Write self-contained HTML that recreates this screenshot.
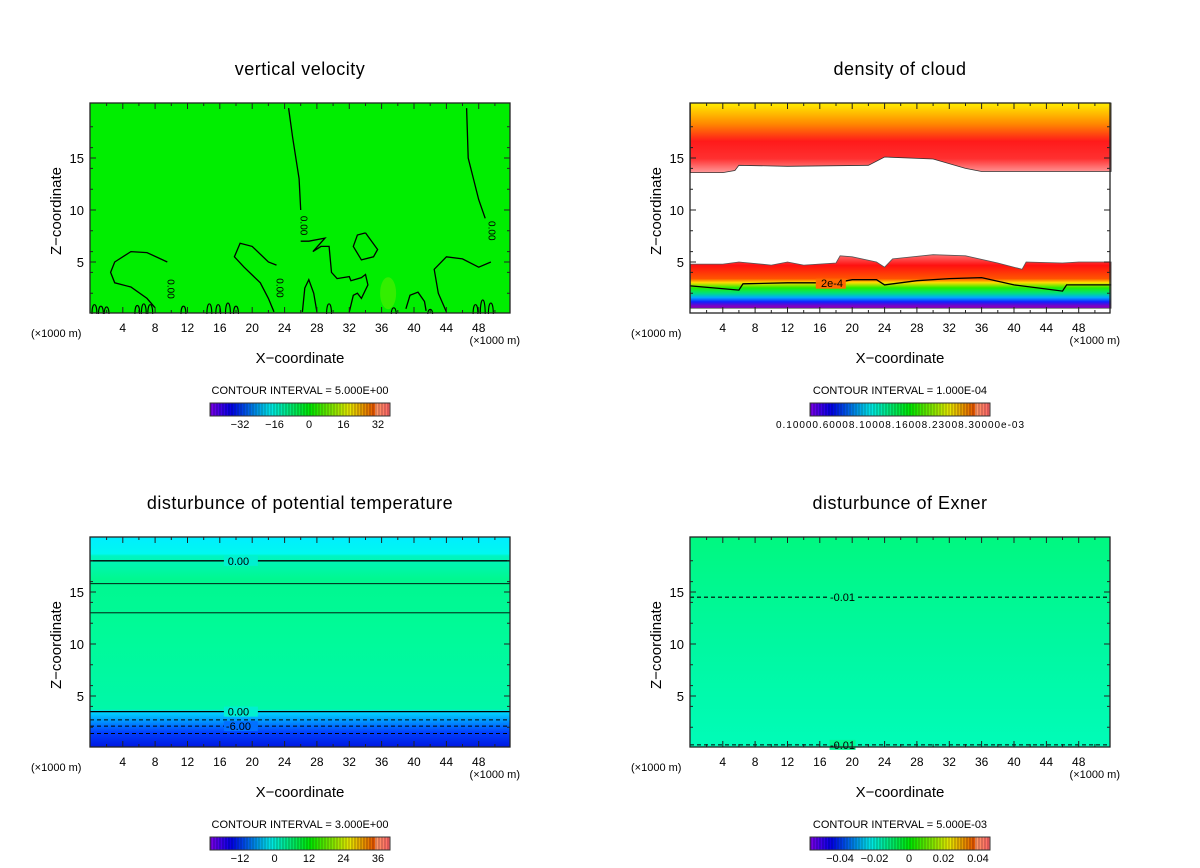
<!DOCTYPE html>
<html><head><meta charset="utf-8"><style>
html,body{margin:0;padding:0;background:#fff}
svg{display:block}
text{font-family:"Liberation Sans",sans-serif;fill:#000}
</style></head><body>
<svg id="fig" width="1200" height="868" viewBox="0 0 1200 868" xmlns="http://www.w3.org/2000/svg">
<defs>
<linearGradient id="gCloudTop" x1="0" y1="0" x2="0" y2="1">
<stop offset="0" stop-color="#ffee00"/><stop offset="0.3" stop-color="#ff8800"/><stop offset="0.55" stop-color="#ff1a1a"/><stop offset="0.8" stop-color="#ff3030"/><stop offset="1" stop-color="#ff9a9a"/></linearGradient>
<linearGradient id="gCloudLow" x1="0" y1="0" x2="0" y2="1">
<stop offset="0" stop-color="#ff7070"/><stop offset="0.2" stop-color="#ff1010"/><stop offset="0.45" stop-color="#ff5500"/><stop offset="0.52" stop-color="#ffdd00"/><stop offset="0.62" stop-color="#22ee00"/><stop offset="0.72" stop-color="#00e080"/><stop offset="0.8" stop-color="#00aaff"/><stop offset="0.88" stop-color="#1020ff"/><stop offset="0.96" stop-color="#8000c0"/><stop offset="1" stop-color="#8000c0"/></linearGradient>
<linearGradient id="gTheta" x1="0" y1="0" x2="0" y2="1">
<stop offset="0" stop-color="#00eeff"/><stop offset="0.08" stop-color="#00f8f0"/><stop offset="0.09" stop-color="#00f5c0"/><stop offset="0.2" stop-color="#00f890"/><stop offset="0.45" stop-color="#00fa98"/><stop offset="0.82" stop-color="#00f8a8"/><stop offset="0.83" stop-color="#00ddff"/><stop offset="0.88" stop-color="#0090ff"/><stop offset="0.93" stop-color="#0040ff"/><stop offset="1" stop-color="#0018e0"/></linearGradient>
<linearGradient id="gExner" x1="0" y1="0" x2="0" y2="1">
<stop offset="0" stop-color="#00f880"/><stop offset="0.5" stop-color="#00f8a0"/><stop offset="1" stop-color="#00fcb8"/></linearGradient>
</defs>
<g id="root"></g>
</svg>
<script>
// axis data
const xTicks = [4, 8, 12, 16, 20, 24, 28, 32, 36, 40, 44, 48];
const yTicks = [5, 10, 15];
const titles = ["vertical velocity", "density of cloud", "disturbunce of potential temperature", "disturbunce of Exner"];
const intervals = ["CONTOUR INTERVAL = 5.000E+00", "CONTOUR INTERVAL = 1.000E-04", "CONTOUR INTERVAL = 3.000E+00", "CONTOUR INTERVAL = 5.000E-03"];
const cbLabels0 = ["-32", "-16", "0", "16", "32"];
const cbLabels2 = ["-12", "0", "12", "24", "36"];
const cbLabels3 = ["-0.04", "-0.02", "0", "0.02", "0.04"];
// cloud boundaries (x km, z km)
const cloudBaseX = [0, 4, 5.5, 6, 12, 22, 24, 30, 34, 36, 52];
const cloudBaseZ = [13.6, 13.6, 13.8, 14.3, 14.2, 14.3, 15.1, 14.9, 14.0, 13.7, 13.7];
const lowTopX = [0, 4, 6, 10, 12, 14, 18, 18.5, 20, 23, 24, 25, 30, 34, 38, 41, 41.5, 46, 48, 52];
const lowTopZ = [4.8, 4.8, 5.0, 4.7, 5.0, 4.7, 4.9, 5.6, 5.5, 5.0, 4.5, 5.3, 5.7, 5.6, 4.9, 4.3, 5.0, 4.9, 5.0, 5.0];
const c2eX = [0, 6, 6.5, 12, 18, 20, 23, 24, 28, 32, 36, 40, 46, 46.5, 52];
const c2eZ = [2.7, 2.3, 2.9, 3.0, 3.0, 3.3, 3.3, 2.8, 3.2, 3.4, 3.5, 2.8, 2.2, 2.8, 2.8];
// potential temperature contour levels (z km), solid/dashed
const thetaSolidZ = [18.0, 15.8, 13.0, 3.5];
const thetaDashZ = [2.7, 2.1, 1.4];
const exnerDashZ = [14.5, 0.3];
// vertical velocity zero contours (x,z pairs)
const wLineA = [[24.5,19.8],[25,17],[25.8,13],[26,10]];
const wLineB = [[46.5,19.8],[46.7,15],[48,11],[48.8,9.2]];
const wLoop1 = [[9.5,5],[7,5.9],[5,6],[3,5],[2.5,4],[3,3],[5,2.6],[7,1.5],[8,0.6]];
const wLoop2 = [[23,4.7],[22,5],[20,6.5],[18.5,6.8],[17.8,5.5],[19,4.5],[21,3],[22,1.5],[22.7,0.2]];
const wLoop3 = [[34,7.8],[33,7.6],[32.5,6.5],[33.5,5.2],[35,5.5],[35.5,6.2],[34,7.8]];
const wLoop4 = [[26,7],[27,7],[29,7.3],[27.5,6],[28.5,6.5],[29.5,6.5],[29.8,4],[30.5,3.4],[32,3.6],[32.2,3.2],[33.5,3.5],[34,3.8],[34.3,2.8],[33.5,1.5],[33,2],[32.5,1.8],[32,0.2]];
const wLoop5 = [[49.5,5],[48,4.5],[46,5.3],[44,5.5],[42.5,4.3],[43,2],[44,0.2]];
const wLoop6 = [[26.2,0.2],[26.5,2.5],[27,3.3],[27.6,2],[28,0.2]];
const wLoop7 = [[39,0.5],[39.5,1.8],[40.5,2.1],[41.3,1.2],[41.5,0.3]];
// small near-ground cells (x km, height km)
const groundX = [0.5, 1.3, 2, 5.8, 6.6, 7.4, 11.5, 14.7, 15.8, 17, 18, 29.5, 37.5, 42, 47.6, 48.5, 49.5];
const groundH = [1.2, 1.0, 0.9, 1.1, 1.3, 1.2, 1.0, 1.3, 1.2, 1.4, 1.0, 1.3, 0.8, 0.6, 1.2, 1.8, 1.4];

const NS = "http://www.w3.org/2000/svg";
const root = document.getElementById("root");
function mk(tag, attrs, parent) { const e = document.createElementNS(NS, tag); for (const k in attrs) e.setAttribute(k, attrs[k]); (parent || root).appendChild(e); return e; }
const PW = 420, PH = 210, KX = 8.09, KZ = 10.4;
const origins = [[90,103],[690,103],[90,537],[690,537]];
function sx(p, x) { return origins[p][0] + 0.4 + x * KX; }
function sy(p, z) { return origins[p][1] + 211 - z * KZ; }
function poly(p, xs, zs) { return xs.map((x, i) => sx(p, x).toFixed(1) + "," + sy(p, zs[i]).toFixed(1)).join(" "); }
function ptsPath(p, arr) { return "M" + arr.map(q => sx(p, q[0]).toFixed(1) + "," + sy(p, q[1]).toFixed(1)).join(" L"); }
function rainbow(t) { const h = 270 - t * 270; return "hsl(" + Math.max(0, h) + ",100%," + (t > 0.93 ? 70 : 45) + "%)"; }

for (let p = 0; p < 4; p++) {
  const [ox, oy] = origins[p];
  const cx = ox + PW / 2;
  const g = mk("g", {});
  
  
  const t = mk("text", {x: cx, y: oy - 28, "font-size": 18, "text-anchor": "middle", "letter-spacing": "0.5"}, g);
  t.textContent = titles[p];
  
  
  const plot = mk("g", {}, g);
  
  
  if (p === 0) {
    mk("rect", {x: ox, y: oy, width: PW, height: PH, fill: "#00ee00"}, plot);
    mk("ellipse", {cx: sx(0,36.8), cy: sy(0,2), rx: 8, ry: 16, fill: "#55ee00", opacity: 0.6}, plot);
    [wLineA, wLineB, wLoop1, wLoop2, wLoop3, wLoop4, wLoop5, wLoop6, wLoop7].forEach(l => {
      const e = mk("path", {d: ptsPath(0, l), fill: "none", stroke: "#000", "stroke-width": 1.3}, plot);
      
      
    });
    [[26,8.5],[49.2,8],[9.5,2.4],[23,2.5]].forEach(q => {
      const e = mk("text", {x: sx(0,q[0]), y: sy(0,q[1]), "font-size": 10, transform: "rotate(90 " + sx(0,q[0]) + " " + sy(0,q[1]) + ")", "text-anchor": "middle"}, plot);
      e.textContent = "0.00";
    });
    groundX.forEach((x, i) => {
      const x0 = sx(0, x - 0.3), x1 = sx(0, x + 0.3), yt = sy(0, groundH[i]), yb = sy(0, 0);
      mk("path", {d: `M${x0.toFixed(1)},${yb} C${x0.toFixed(1)},${yt.toFixed(1)} ${x1.toFixed(1)},${yt.toFixed(1)} ${x1.toFixed(1)},${yb}`, fill: "none", stroke: "#000", "stroke-width": 1.1}, plot);
    });
  } else if (p === 1) {
    mk("rect", {x: ox, y: oy, width: PW, height: PH, fill: "#fff"}, plot);
    const up = mk("polygon", {points: sx(1,0) + "," + oy + " " + sx(1,52) + "," + oy + " " + poly(1, cloudBaseX.slice().reverse(), cloudBaseZ.slice().reverse()), fill: "url(#gCloudTop)", stroke: "#333", "stroke-width": 0.8}, plot);
    
    
    const lo = mk("polygon", {points: poly(1, lowTopX, lowTopZ) + " " + sx(1,52) + "," + sy(1,0.55) + " " + sx(1,0) + "," + sy(1,0.55), fill: "url(#gCloudLow)", stroke: "#555", "stroke-width": 0.8}, plot);
    
    
    mk("polyline", {points: poly(1, c2eX, c2eZ), fill: "none", stroke: "#000", "stroke-width": 1.3}, plot);
    mk("rect", {x: sx(1,15.5), y: sy(1,3.4), width: 30, height: 10, fill: "#ff6a00"}, plot);
    const lb = mk("text", {x: sx(1,17.5), y: sy(1,2.6), "font-size": 11, "text-anchor": "middle"}, plot);
    lb.textContent = "2e-4";
  } else if (p === 2) {
    mk("rect", {x: ox, y: oy, width: PW, height: PH, fill: "url(#gTheta)"}, plot);
    thetaSolidZ.forEach((z, i) => mk("line", {x1: ox, x2: ox + PW, y1: sy(2,z), y2: sy(2,z), stroke: "#000", "stroke-width": (i === 0 || i === 3) ? 1.3 : 0.8}, plot));
    thetaDashZ.forEach(z => mk("line", {x1: ox, x2: ox + PW, y1: sy(2,z), y2: sy(2,z), stroke: "#000", "stroke-width": 1, "stroke-dasharray": "4,3"}, plot));
    [[thetaSolidZ[0], "0.00"], [thetaSolidZ[3], "0.00"], [thetaDashZ[1], "-6.00"]].forEach(q => {
      mk("rect", {x: sx(2,16.5), y: sy(2,q[0]) - 5, width: 34, height: 10, fill: q[1] === "-6.00" ? "#0070ff" : "#00f0d0"}, plot);
      const e = mk("text", {x: sx(2,18.3), y: sy(2,q[0]) + 4, "font-size": 11, "text-anchor": "middle"}, plot);
      e.textContent = q[1];
    });
  } else {
    mk("rect", {x: ox, y: oy, width: PW, height: PH, fill: "url(#gExner)"}, plot);
    exnerDashZ.forEach(z => mk("line", {x1: ox, x2: ox + PW, y1: sy(3,z), y2: sy(3,z), stroke: "#000", "stroke-width": 1.1, "stroke-dasharray": "4,3"}, plot));
    exnerDashZ.forEach(z => {
      mk("rect", {x: sx(3,17.2), y: sy(3,z) - 5, width: 26, height: 10, fill: "#00f890"}, plot);
      const e = mk("text", {x: sx(3,18.8), y: sy(3,z) + 4, "font-size": 11, "text-anchor": "middle"}, plot);
      e.textContent = "-0.01";
    });
  }
  // frame
  mk("rect", {x: ox, y: oy, width: PW, height: PH, fill: "none", stroke: "#222", "stroke-width": 1.3}, g);
  // ticks
  let td = "";
  for (let x = 2; x < 52; x += 2) { const L = x % 4 === 0 ? 6 : 3, X = sx(p, x).toFixed(1); td += `M${X},${oy} v${L} M${X},${oy + PH} v${-L} `; }
  for (let z = 1; z < 20; z += 1) { const L = z % 5 === 0 ? 6 : 3, Y = sy(p, z).toFixed(1); if (z % 5 && z % 2) continue; td += `M${ox},${Y} h${L} M${ox + PW},${Y} h${-L} `; }
  mk("path", {d: td, stroke: "#222", "stroke-width": 1, fill: "none"}, g);
  xTicks.forEach(x => { const e = mk("text", {x: sx(p,x), y: oy + PH + 19, "font-size": 12, "text-anchor": "middle"}, g); e.textContent = x;   });
  yTicks.forEach(z => { const e = mk("text", {x: ox - 6, y: sy(p,z) + 5, "font-size": 13, "text-anchor": "end"}, g); e.textContent = z;   });
  const u1 = mk("text", {x: ox - 59, y: oy + PH + 24, "font-size": 11}, g); u1.textContent = "(\u00d71000 m)";
  const u2 = mk("text", {x: ox + PW + 10, y: oy + PH + 31, "font-size": 11, "text-anchor": "end"}, g); u2.textContent = "(\u00d71000 m)";
  const xl = mk("text", {x: cx, y: oy + PH + 50, "font-size": 15, "text-anchor": "middle"}, g); xl.textContent = "X\u2212coordinate";
   
  const yl = mk("text", {x: ox - 29, y: oy + 108, "font-size": 15, "text-anchor": "middle", transform: `rotate(-90 ${ox - 29} ${oy + 108})`}, g); yl.textContent = "Z\u2212coordinate";
   
  const ci = mk("text", {x: cx, y: oy + PH + 81, "font-size": 11, "text-anchor": "middle"}, g); ci.textContent = intervals[p];
   
  // colorbar
  const cb = mk("g", {}, g);
  
  
  const bx = ox + 120, by = oy + PH + 90, bw = 180, bh = 13, n = 60;
  for (let i = 0; i < n; i++) {
    mk("rect", {x: bx + i * bw / n, y: by, width: bw / n + 0.3, height: bh, fill: rainbow(i / (n - 1))}, cb);
    mk("line", {x1: bx + i * bw / n + 1, x2: bx + i * bw / n + 1, y1: by, y2: by + bh, stroke: "#000", "stroke-width": 0.6, opacity: 0.5}, cb);
  }
  mk("rect", {x: bx, y: by, width: bw, height: bh, fill: "none", stroke: "#333", "stroke-width": 1}, cb);
  if (p === 1) {
    const e = mk("text", {x: bx + 90, y: by + 25, "font-size": 10, "text-anchor": "middle", textLength: 248}, cb); e.textContent = "0.10000.60008.10008.16008.23008.30000e-03";
  } else {
    const labs = p === 0 ? cbLabels0 : p === 2 ? cbLabels2 : cbLabels3;
    labs.forEach((s, i) => { const e = mk("text", {x: bx + 30 + i * 34.5, y: by + 25, "font-size": 11, "text-anchor": "middle"}, cb); e.textContent = s.replace("-", "\u2212"); });
  }
}
</script>
</body></html>
